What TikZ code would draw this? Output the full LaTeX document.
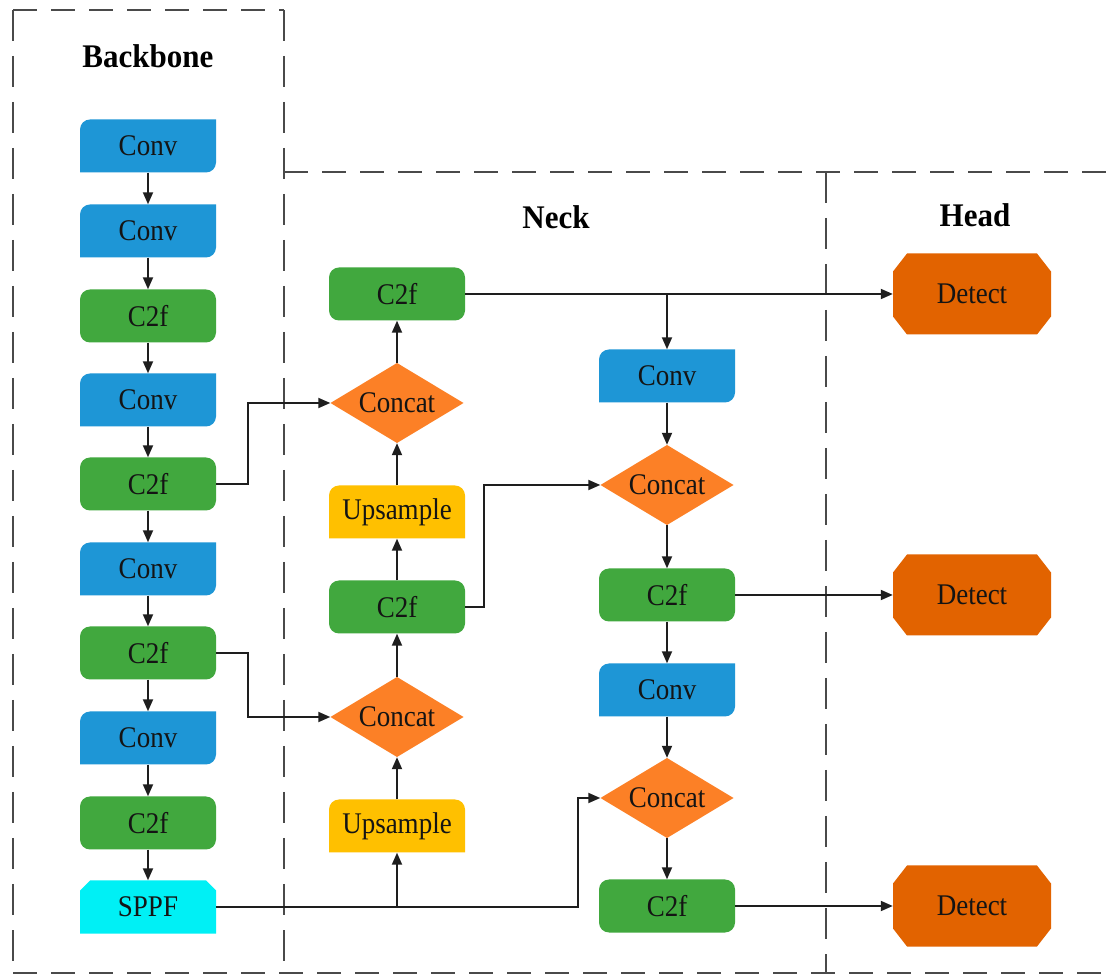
\documentclass[tikz,border=0pt]{standalone}
\usepackage{fontspec}
\setmainfont{Liberation Serif}
\newfontfamily\nodefont[FakeStretch=0.9]{Liberation Serif}
\newfontfamily\titlefont[FakeStretch=0.94]{Liberation Serif}
\usetikzlibrary{arrows.meta,calc}
\definecolor{convc}{HTML}{1E96D6}
\definecolor{c2fc}{HTML}{41A83E}
\definecolor{concatc}{HTML}{FC8026}
\definecolor{upc}{HTML}{FFC000}
\definecolor{sppfc}{HTML}{00F0F5}
\definecolor{detc}{HTML}{E26300}
\definecolor{dashc}{HTML}{4A4A4A}
\definecolor{linec}{HTML}{1E1E1E}
\definecolor{txtc}{HTML}{141414}
\tikzset{
  box/.style={rectangle, minimum width=136pt, minimum height=53pt, inner sep=0pt,
    font=\nodefont\fontsize{30}{30}\selectfont, text=txtc},
  convbox/.style={box, path picture={
    \fill[convc] (path picture bounding box.south west)
      -- ([yshift=-10pt]path picture bounding box.north west)
      arc[start angle=180,end angle=90,radius=10pt]
      -- (path picture bounding box.north east)
      -- ([yshift=10pt]path picture bounding box.south east)
      arc[start angle=0,end angle=-90,radius=10pt] -- cycle;}},
  c2fbox/.style={box, fill=c2fc, rounded corners=10pt},
  upbox/.style={box, path picture={
    \fill[upc] (path picture bounding box.south west)
      -- ([yshift=-10pt]path picture bounding box.north west)
      arc[start angle=180,end angle=90,radius=10pt]
      -- ([xshift=-10pt]path picture bounding box.north east)
      arc[start angle=90,end angle=0,radius=10pt]
      -- (path picture bounding box.south east) -- cycle;}},
  sppfbox/.style={box, path picture={
    \fill[sppfc] (path picture bounding box.south west)
      -- ([yshift=-10pt]path picture bounding box.north west)
      -- ([xshift=10pt]path picture bounding box.north west)
      -- ([xshift=-10pt]path picture bounding box.north east)
      -- ([yshift=-10pt]path picture bounding box.north east)
      -- (path picture bounding box.south east) -- cycle;}},
  concatbox/.style={box, minimum width=133pt, minimum height=80pt, path picture={
    \fill[concatc] (path picture bounding box.north)
      -- (path picture bounding box.east)
      -- (path picture bounding box.south)
      -- (path picture bounding box.west) -- cycle;}},
  detbox/.style={box, minimum width=158pt, minimum height=81pt, path picture={
    \fill[detc] ([xshift=14pt]path picture bounding box.north west)
      -- ([xshift=-14pt]path picture bounding box.north east)
      -- ([yshift=-18pt]path picture bounding box.north east)
      -- ([yshift=18pt]path picture bounding box.south east)
      -- ([xshift=-14pt]path picture bounding box.south east)
      -- ([xshift=14pt]path picture bounding box.south west)
      -- ([yshift=18pt]path picture bounding box.south west)
      -- ([yshift=-18pt]path picture bounding box.north west) -- cycle;}},
  title/.style={font=\titlefont\bfseries\fontsize{33}{33}\selectfont, text=black},
  arr/.style={line width=1.8pt, draw=linec, -{Triangle[length=12pt,width=10pt]}},
  hframe/.style={line width=2.2pt, draw=dashc, dash pattern=on 24pt off 14pt},
  vframe/.style={line width=2.6pt, draw=dashc, dash pattern=on 31pt off 15pt},
}
\begin{document}
\begin{tikzpicture}[x=1pt,y=1pt]
\useasboundingbox (0,0) rectangle (1109,978);
\fill[white] (0,0) rectangle (1109,978);
% frames
\draw[hframe] (13,968) -- (284,968);
\draw[vframe] (13,968) -- (13,16);
\draw[vframe] (284,968) -- (284,12);
\draw[hframe] (284,806) -- (1109,806);
\draw[vframe] (826,806) -- (826,6);
\draw[hframe] (13,5) -- (1109,5);
% titles
\node[title] (tb) at (148,922) {Backbone};
\node[title] (tn) at (556,761) {Neck};
\node[title] (th) at (975,763) {Head};
% backbone
\node[convbox] (b1) at (148,832) {Conv};
\node[convbox] (b2) at (148,747) {Conv};
\node[c2fbox]  (b3) at (148,662) {C2f};
\node[convbox] (b4) at (148,578) {Conv};
\node[c2fbox]  (b5) at (148,494) {C2f};
\node[convbox] (b6) at (148,409) {Conv};
\node[c2fbox]  (b7) at (148,325) {C2f};
\node[convbox] (b8) at (148,240) {Conv};
\node[c2fbox]  (b9) at (148,155) {C2f};
\node[sppfbox] (b10) at (148,71) {SPPF};
% neck left
\node[c2fbox]    (n1) at (397,684) {C2f};
\node[concatbox] (n2) at (397,575) {Concat};
\node[upbox]     (n3) at (397,466) {Upsample};
\node[c2fbox]    (n4) at (397,371) {C2f};
\node[concatbox] (n5) at (397,261) {Concat};
\node[upbox]     (n6) at (397,152) {Upsample};
% neck right
\node[convbox]   (r1) at (667,602) {Conv};
\node[concatbox] (r2) at (667,493) {Concat};
\node[c2fbox]    (r3) at (667,383) {C2f};
\node[convbox]   (r4) at (667,288) {Conv};
\node[concatbox] (r5) at (667,180) {Concat};
\node[c2fbox]    (r6) at (667,72) {C2f};
% head
\node[detbox] (d1) at (972,684) {Detect};
\node[detbox] (d2) at (972,383) {Detect};
\node[detbox] (d3) at (972,72) {Detect};
% backbone arrows
\foreach \a/\b in {b1/b2,b2/b3,b3/b4,b4/b5,b5/b6,b6/b7,b7/b8,b8/b9,b9/b10}
  \draw[arr] (\a.south) -- (\b.north);
% neck left arrows
\foreach \a/\b in {n6/n5,n5/n4,n4/n3,n3/n2,n2/n1}
  \draw[arr] (\a.north) -- (\b.south);
% neck right arrows
\foreach \a/\b in {r1/r2,r2/r3,r3/r4,r4/r5,r5/r6}
  \draw[arr] (\a.south) -- (\b.north);
% lateral connections
\draw[arr] (b5.east) -- ++(32,0) |- (n2.west);
\draw[arr] (b7.east) -- ++(32,0) |- (n5.west);
\draw[arr] (b10.east) -| (n6.south);
\draw[arr] (b10.east) -- ++(362,0) |- (r5.west);
\draw[arr] (n4.east) -- ++(19,0) |- (r2.west);
\draw[arr] (n1.east) -- (d1.west);
\draw[arr] (n1.east -| r1.north) -- (r1.north);
\draw[arr] (r3.east) -- (d2.west);
\draw[arr] (r6.east) -- (d3.west);
\end{tikzpicture}
\end{document}
